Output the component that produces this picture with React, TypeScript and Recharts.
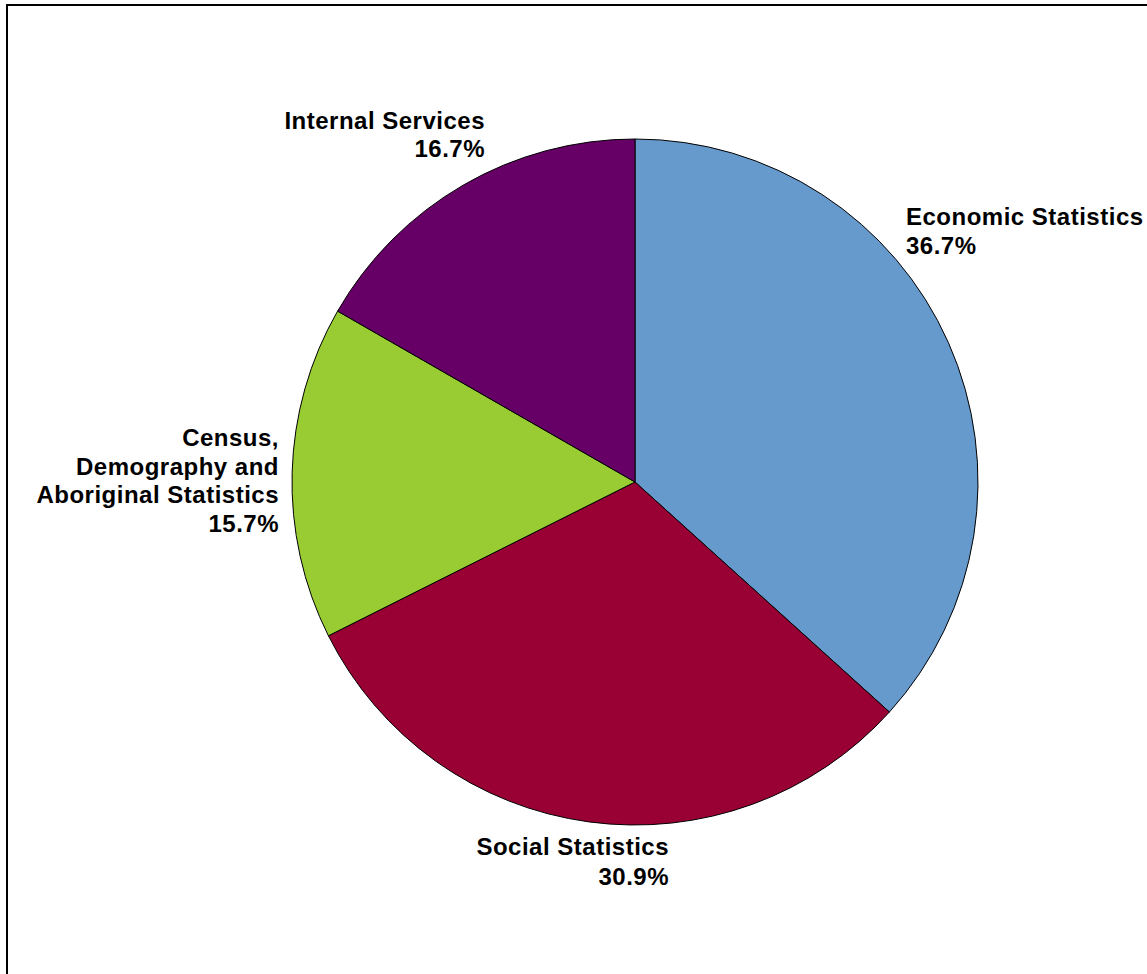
import { PieChart, Pie, Cell } from "recharts";

const categories = ["Economic Statistics", "Social Statistics", "Census, Demography and Aboriginal Statistics", "Internal Services"];
const shares = [36.7, 30.9, 15.7, 16.7];
const shareLabels = ["36.7%", "30.9%", "15.7%", "16.7%"];
const labelLines = [
  ["Economic Statistics"],
  ["Social Statistics"],
  ["Census,", "Demography and", "Aboriginal Statistics"],
  ["Internal Services"],
];

const COLORS = ["#6699CC", "#990033", "#99CC33", "#660066"];

// where each label block sits (x = anchor edge, y = first baseline)
const LABEL_LAYOUT = [
  { x: 906, y: 225, anchor: "start", lh: 29 },
  { x: 669, y: 855, anchor: "end", lh: 30 },
  { x: 279, y: 446, anchor: "end", lh: 28.5 },
  { x: 485, y: 129, anchor: "end", lh: 28 },
];

const data = categories.map((name, i) => ({ name, value: shares[i] }));

function SliceLabel(props: any) {
  const i = props.index;
  const pos = LABEL_LAYOUT[i];
  const lines = [...labelLines[i], shareLabels[i]];
  return (
    <text
      x={pos.x}
      y={pos.y}
      textAnchor={pos.anchor}
      fill="#000"
      style={{ fontFamily: "'Liberation Sans', Arial, sans-serif", fontWeight: "bold", fontSize: 24, letterSpacing: 0.5 }}
    >
      {lines.map((l, k) => (
        <tspan key={k} x={pos.x} y={pos.y + k * pos.lh}>
          {l}
        </tspan>
      ))}
    </text>
  );
}

export default function App() {
  return (
    <div style={{ position: "absolute", left: 0, top: 0, width: 1147, height: 974, background: "#fff", overflow: "hidden" }}>
      <div
        style={{
          position: "absolute",
          left: 6,
          top: 4,
          width: 1147,
          height: 974,
          borderLeft: "2px solid #000",
          borderTop: "2px solid #000",
          boxSizing: "border-box",
        }}
      />
      <div style={{ position: "absolute", left: 0, top: 0 }}>
        <PieChart width={1147} height={974} margin={{ top: 0, right: 0, bottom: 0, left: 0 }}>
          <Pie
            data={data}
            dataKey="value"
            nameKey="name"
            cx={635}
            cy={482}
            outerRadius={343}
            startAngle={90}
            endAngle={-270}
            stroke="#000"
            strokeWidth={1}
            label={SliceLabel}
            labelLine={false}
            isAnimationActive={false}
          >
            {data.map((_, index) => (
              <Cell key={index} fill={COLORS[index]} />
            ))}
          </Pie>
        </PieChart>
      </div>
    </div>
  );
}
